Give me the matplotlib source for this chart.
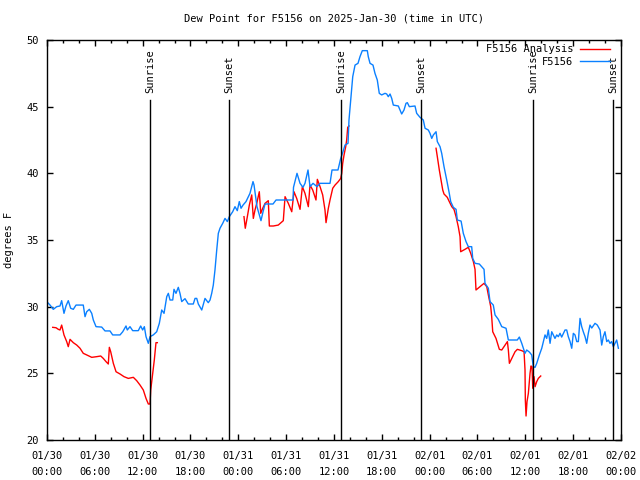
import matplotlib
matplotlib.use('Agg')
import matplotlib.pyplot as plt
import matplotlib.dates as mdates
import numpy as np
from datetime import datetime, timedelta

# -----------------------------
# Data (hours after 2025-01-30 00:00 UTC, degrees F)
# -----------------------------
obs_hours = [
    0.09, 0.38, 0.79, 1.22, 1.63, 1.84, 2.13, 2.38, 2.67, 2.97, 3.30, 3.64, 4.55, 4.77,
    4.98, 5.31, 5.61, 5.81, 6.15, 6.86, 7.28, 7.90, 8.24, 9.16, 9.50, 9.91, 10.07, 10.41,
    10.75, 11.45, 11.75, 12.00, 12.21, 12.42, 12.71, 12.92, 13.33, 13.76, 14.09, 14.39,
    14.68, 15.02, 15.22, 15.43, 15.77, 15.93, 16.18, 16.47, 16.68, 16.90, 17.31, 17.72,
    18.35, 18.57, 18.78, 18.98, 19.41, 19.82, 20.23, 20.45, 20.66, 20.86, 21.07, 21.29,
    21.49, 21.70, 22.04, 22.33, 22.62, 22.87, 23.29, 23.58, 23.87, 24.12, 24.34, 24.59,
    24.96, 25.46, 25.84, 25.97, 26.34, 26.84, 27.10, 27.35, 28.35, 28.73, 30.86, 30.92,
    31.36, 31.74, 32.11, 32.36, 32.74, 32.99, 33.37, 33.87, 34.25, 35.50, 35.75, 36.50,
    36.84, 37.13, 37.38, 37.76, 37.88, 38.10, 38.35, 38.64, 39.01, 39.26, 39.55, 40.18,
    40.30, 40.52, 40.89, 41.14, 41.43, 41.56, 41.68, 41.98, 42.40, 42.61, 42.81, 43.03,
    43.24, 43.44, 44.07, 44.49, 44.78, 45.03, 45.20, 45.45, 46.16, 46.37, 46.79, 47.20,
    47.42, 47.83, 48.04, 48.26, 48.46, 48.80, 48.96, 49.30, 49.51, 49.80, 50.14, 50.46,
    50.64, 50.97, 51.31, 51.47, 51.94, 52.22, 52.56, 52.85, 53.27, 53.40, 53.69, 54.23,
    54.82, 54.94, 55.36, 55.57, 55.98, 56.20, 56.61, 57.04, 57.58, 57.87, 58.99, 59.25,
    59.55, 59.96, 60.17, 60.50, 60.80, 61.00, 61.22, 61.43, 61.76, 62.06, 62.26, 62.47,
    62.68, 62.88, 63.10, 63.31, 63.51, 63.72, 63.94, 64.14, 64.35, 64.56, 64.98, 65.19,
    65.39, 65.61, 65.82, 66.02, 66.23, 66.45, 66.65, 66.86, 67.07, 67.27, 67.49, 67.70,
    67.90, 68.11, 68.33, 68.74, 69.03, 69.37, 69.58, 69.78, 69.99, 70.21, 70.41, 70.62,
    70.83, 71.04, 71.25, 71.46, 71.67,
]
obs_values = [
    30.30, 30.12, 29.80, 30.00, 30.05, 30.45, 29.50, 30.05, 30.45, 29.88, 29.80, 30.12, 30.12, 29.25,
    29.62, 29.80, 29.50, 29.00, 28.50, 28.47, 28.18, 28.18, 27.88, 27.88, 28.12, 28.55, 28.25, 28.50,
    28.20, 28.20, 28.55, 28.25, 28.50, 27.75, 27.25, 27.75, 27.88, 28.12, 28.75, 29.75,
    29.50, 30.75, 31.00, 30.50, 30.50, 31.30, 31.00, 31.45, 31.00, 30.38, 30.60, 30.20,
    30.20, 30.62, 30.62, 30.20, 29.75, 30.62, 30.30, 30.50, 31.00, 31.62, 32.75, 34.25,
    35.50, 35.88, 36.25, 36.62, 36.38, 36.75, 37.12, 37.50, 37.20, 37.88, 37.38, 37.62,
    37.88, 38.50, 39.38, 39.12, 37.50, 36.45, 37.12, 37.70, 37.70, 38.00, 38.00, 38.95,
    40.00, 39.25, 38.95, 39.25, 40.25, 39.00, 39.25, 39.00, 39.25, 39.25, 40.25, 40.25,
    41.12, 41.62, 42.12, 42.25, 44.00, 45.50, 47.25, 48.12, 48.25, 48.75, 49.20, 49.20,
    48.75, 48.25, 48.12, 47.50, 47.00, 46.50, 46.00, 45.88, 46.00, 45.95, 45.75, 45.95,
    45.62, 45.12, 45.05, 44.45, 44.75, 45.25, 45.30, 45.00, 45.05, 44.50, 44.20, 44.00,
    43.38, 43.25, 43.00, 42.62, 42.88, 43.12, 42.38, 42.00, 41.50, 40.50, 39.50, 38.50,
    37.88, 37.45, 37.30, 36.50, 36.42, 35.50, 34.88, 34.50, 34.50, 33.62, 33.25, 33.20,
    32.80, 31.75, 31.38, 30.38, 30.12, 29.38, 29.05, 28.50, 28.38, 27.50, 27.50, 27.72,
    27.25, 26.50, 26.75, 26.60, 26.38, 25.50, 25.45, 25.75, 26.38, 26.88, 27.38, 27.88,
    27.62, 28.25, 27.25, 28.12, 27.88, 27.62, 27.88, 27.75, 28.00, 27.72, 28.25, 28.25,
    27.75, 27.38, 26.88, 28.00, 27.88, 27.38, 27.38, 29.12, 28.50, 28.12, 27.75, 27.25,
    28.00, 28.62, 28.40, 28.75, 28.62, 28.25, 27.12, 27.75, 28.12, 27.38, 27.50, 27.25,
    27.38, 27.00, 27.25, 27.50, 26.88,
]

# analysis: three separate runs
ana1_hours = [0.72, 1.13, 1.42, 1.63, 1.84, 2.13, 2.47, 2.67, 2.89, 3.30, 3.73, 4.14, 4.55,
              4.98, 5.61, 6.23, 6.74, 7.06, 7.40, 7.69, 7.82, 7.99, 8.32, 8.66, 9.16, 9.66,
              10.20, 10.83, 11.25, 11.67, 12.08, 12.42, 12.71, 12.92, 13.01, 13.26, 13.46,
              13.67, 13.84]
ana1_values = [28.45, 28.42, 28.30, 28.25, 28.62, 27.88, 27.38, 27.00, 27.55, 27.30, 27.12,
               26.88, 26.50, 26.38, 26.20, 26.25, 26.30, 26.12, 25.88, 25.70, 26.95, 26.62,
               25.75, 25.12, 24.95, 24.75, 24.62, 24.70, 24.45, 24.12, 23.75, 23.12, 22.70,
               22.70, 23.75, 25.00, 26.00, 27.30, 27.30]

ana2_hours = [24.71, 24.87, 25.13, 25.38, 25.68, 25.88, 26.09, 26.31, 26.63, 26.81, 27.06,
              27.35, 27.76, 27.89, 28.39, 29.01, 29.64, 29.86, 30.27, 30.70, 30.98, 31.32,
              31.74, 32.03, 32.36, 32.78, 32.99, 33.33, 33.74, 33.91, 34.25, 34.58, 34.87,
              35.00, 35.29, 35.50, 35.84, 36.13, 36.54, 36.84, 36.97, 37.09, 37.26, 37.47,
              37.59, 37.72, 37.88]
ana2_values = [36.75, 35.88, 36.75, 37.62, 38.38, 36.62, 37.25, 37.75, 38.62, 37.00, 37.38,
               37.75, 37.95, 36.05, 36.05, 36.12, 36.45, 38.25, 37.75, 37.12, 38.62, 38.12,
               37.30, 39.00, 38.50, 37.50, 39.12, 38.75, 38.00, 39.55, 39.00, 38.38, 37.25,
               36.30, 37.38, 38.00, 38.88, 39.12, 39.38, 39.62, 40.00, 40.75, 41.38, 42.00,
               42.50, 43.45, 43.55]

ana3_hours = [48.80, 48.96, 49.21, 49.39, 49.64, 49.80, 50.21, 50.46, 50.77, 51.05, 51.31,
              51.59, 51.81, 51.89, 52.43, 52.85, 53.15, 53.48, 53.69, 53.81, 54.31, 54.82,
              55.16, 55.36, 55.66, 55.78, 55.91, 56.32, 56.74, 57.04, 57.46, 57.75, 57.87,
              58.00, 58.30, 58.71, 59.00, 59.55, 59.84, 59.96, 60.00, 60.09, 60.21, 60.38,
              60.59, 60.71, 60.84, 60.93, 61.09, 61.22, 61.43, 61.63, 61.93]
ana3_values = [41.88, 41.25, 40.25, 39.62, 38.75, 38.45, 38.20, 37.88, 37.50, 37.30, 36.75,
               36.00, 35.25, 34.12, 34.30, 34.45, 34.00, 33.38, 32.80, 31.25, 31.50, 31.75,
               31.50, 30.88, 30.00, 29.25, 28.12, 27.62, 26.80, 26.75, 27.12, 27.38, 26.75,
               25.75, 26.12, 26.62, 26.80, 26.70, 26.62, 25.25, 23.00, 21.80, 22.88, 23.50,
               25.00, 25.55, 25.50, 23.88, 24.75, 24.00, 24.38, 24.62, 24.80]

sun_hours = [12.95, 22.85, 36.93, 46.95, 60.98, 71.02]
sun_labels = ['Sunrise', 'Sunset', 'Sunrise', 'Sunset', 'Sunrise', 'Sunset']

# -----------------------------
# Plot
# -----------------------------
start = datetime(2025, 1, 30)
to_time = lambda hrs: [start + timedelta(hours=h) for h in hrs]

mono = 'DejaVu Sans Mono'
fsize = 7.5
plt.rcParams['font.family'] = mono
plt.rcParams['font.size'] = fsize

fig = plt.figure(figsize=(6.4, 4.8), dpi=100)
ax = fig.add_axes([47/640, 40/480, 574/640, 400/480])

segments = [(ana1_hours, ana1_values), (ana2_hours, ana2_values), (ana3_hours, ana3_values)]
for k, (hh, vv) in enumerate(segments):
    ax.plot(to_time(hh), vv, color='#ff0000', lw=1.0,
            label='F5156 Analysis' if k == 0 else None)
ax.plot(to_time(obs_hours), obs_values, color='#0a80ff', lw=1.0, label='F5156')

for h, lab in zip(sun_hours, sun_labels):
    t = start + timedelta(hours=h)
    ax.axvline(t, ymin=0, ymax=0.85, color='black', lw=1.0)
    ax.text(t, 46.05, lab, rotation=90, ha='center', va='bottom', fontsize=fsize)

ax.set_xlim(start, start + timedelta(hours=72))
ax.set_ylim(20, 50)
ax.set_yticks(np.arange(20, 51, 5))
ax.xaxis.set_major_locator(mdates.HourLocator(byhour=[0, 6, 12, 18]))
ax.xaxis.set_minor_locator(mdates.HourLocator(interval=2))
ax.xaxis.set_major_formatter(mdates.DateFormatter('%m/%d\n%H:%M'))
ax.tick_params(which='both', direction='in', top=True, right=True, width=1.0)
ax.tick_params(which='major', length=4)
ax.tick_params(which='minor', length=2.5)
ax.tick_params(axis='x', pad=8)
ax.tick_params(axis='y', pad=6)
for s in ax.spines.values():
    s.set_linewidth(1.0)

ax.set_ylabel('degrees F', labelpad=9)
ax.set_title('Dew Point for F5156 on 2025-Jan-30 (time in UTC)', pad=13, fontsize=fsize)

leg = ax.legend(loc='upper right', bbox_to_anchor=(0.988, 1.0), frameon=False,
                markerfirst=False, handlelength=2.9, borderaxespad=0.0,
                labelspacing=0.25, handletextpad=0.6, fontsize=fsize)
leg.set_zorder(5)

fig.canvas.draw()
for tick in ax.xaxis.get_major_ticks():
    tick.label1.set_linespacing(1.75)

plt.savefig('out.png', dpi=100)
plt.close()
